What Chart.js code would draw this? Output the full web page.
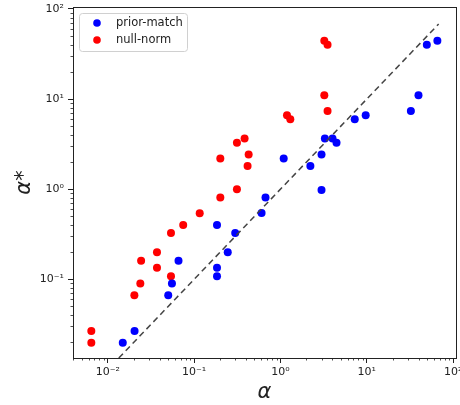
<!DOCTYPE html>
<html>
<head>
<meta charset="utf-8">
<script src="https://cdn.jsdelivr.net/npm/chart.js@4/dist/chart.umd.min.js"></script>
<style>
  html, body { margin: 0; padding: 0; background: #fff; overflow: hidden; }
  canvas { display: block; }
</style>
</head>
<body>
<canvas id="chart" width="460" height="405"></canvas>
<script>
// alpha vs alpha* values
const priorX = [0.0149, 0.0204, 0.0501, 0.0553, 0.0659, 0.184, 0.184, 0.184, 0.245, 0.299, 0.604, 0.671, 1.09, 2.22, 2.99, 2.99, 3.27, 4.01, 4.46, 7.25, 9.71, 32.4, 39.7, 49.6, 65.7];
const priorY = [0.0198, 0.0267, 0.0664, 0.0896, 0.161, 0.401, 0.134, 0.108, 0.2, 0.327, 0.545, 0.809, 2.19, 1.81, 2.43, 0.98, 3.66, 3.66, 3.27, 5.95, 6.59, 7.36, 11.0, 40.1, 44.4];

const nullX = [0.00644, 0.00644, 0.0203, 0.0238, 0.0243, 0.0371, 0.0371, 0.0539, 0.0539, 0.0747, 0.116, 0.201, 0.313, 0.201, 0.313, 0.384, 0.428, 0.416, 1.19, 1.30, 3.22, 3.51, 3.22, 3.51];
const nullY = [0.0267, 0.0198, 0.0664, 0.0896, 0.161, 0.134, 0.2, 0.108, 0.327, 0.401, 0.541, 0.809, 1.0, 2.19, 3.27, 3.66, 2.43, 1.81, 6.59, 5.95, 11.0, 7.36, 44.4, 40.1];

// y = x reference line ends
const refLine = [0.0134, 68];

const seriesNames = ['prior-match', 'null-norm'];
const seriesColors = ['#0000ff', '#ff0000'];

const xRange = [0.00395, 108];
const yRange = [0.0134, 105];

const decadeLabels = { '-3': '10⁻³', '-2': '10⁻²', '-1': '10⁻¹', '0': '10⁰', '1': '10¹', '2': '10²' };

const toPoints = (xs, ys) => xs.map((x, i) => ({ x: x, y: ys[i] }));

function decadeTicks(scale) {
  const ticks = [];
  for (let e = -3; e <= 2; e++) {
    const v = Math.pow(10, e);
    if (v >= scale.min && v <= scale.max) ticks.push({ value: v });
  }
  scale.ticks = ticks;
}

// matplotlib-like frame, minor ticks and legend box inside the plot
const framePlugin = {
  id: 'frame',
  afterDraw(chart) {
    const ctx = chart.ctx;
    const a = chart.chartArea;
    const xs = chart.scales.x;
    const ys = chart.scales.y;
    ctx.save();

    // minor ticks
    ctx.strokeStyle = '#222';
    ctx.lineWidth = 0.8;
    ctx.beginPath();
    for (let e = -3; e <= 2; e++) {
      for (let k = 2; k <= 9; k++) {
        const v = k * Math.pow(10, e);
        if (v > xs.min && v < xs.max) {
          const px = Math.round(xs.getPixelForValue(v)) + 0.5;
          ctx.moveTo(px, a.bottom);
          ctx.lineTo(px, a.bottom + 2.5);
        }
        if (v > ys.min && v < ys.max) {
          const py = Math.round(ys.getPixelForValue(v)) + 0.5;
          ctx.moveTo(a.left, py);
          ctx.lineTo(a.left - 2.5, py);
        }
      }
    }
    ctx.stroke();

    // spines
    ctx.lineWidth = 1;
    ctx.strokeRect(Math.round(a.left) + 0.5, Math.round(a.top) + 0.5,
      Math.round(a.right - a.left), Math.round(a.bottom - a.top));

    // legend
    const lx = 79, ly = 13, lw = 108, lh = 38;
    ctx.fillStyle = 'rgba(255,255,255,0.8)';
    ctx.strokeStyle = '#d0d0d0';
    ctx.lineWidth = 1;
    ctx.beginPath();
    ctx.roundRect(lx + 0.5, ly + 0.5, lw, lh, 3);
    ctx.fill();
    ctx.stroke();
    ctx.font = '11.5px "DejaVu Sans"';
    ctx.textBaseline = 'middle';
    seriesNames.forEach((name, i) => {
      const cy = ly + 10 + i * 17;
      ctx.fillStyle = seriesColors[i];
      ctx.beginPath();
      ctx.arc(lx + 18, cy, 3.8, 0, Math.PI * 2);
      ctx.fill();
      ctx.fillStyle = '#222';
      ctx.fillText(name, lx + 37, cy);
    });
    ctx.restore();
  }
};

Chart.defaults.font.family = '"DejaVu Sans"';
Chart.defaults.color = '#222';

const ctx = document.getElementById('chart').getContext('2d');
new Chart(ctx, {
  type: 'scatter',
  data: {
    datasets: [
      {
        type: 'line',
        label: 'y = x',
        data: toPoints(refLine, refLine),
        borderColor: '#444',
        borderWidth: 1.5,
        borderDash: [6, 4],
        pointRadius: 0,
        fill: false,
      },
      {
        label: seriesNames[0],
        data: toPoints(priorX, priorY),
        backgroundColor: seriesColors[0],
        borderWidth: 0,
        pointRadius: 4,
      },
      {
        label: seriesNames[1],
        data: toPoints(nullX, nullY),
        backgroundColor: seriesColors[1],
        borderWidth: 0,
        pointRadius: 4,
      },
    ],
  },
  options: {
    responsive: false,
    animation: false,
    layout: { padding: { top: 7, right: 2, left: 0, bottom: 0 } },
    plugins: {
      legend: { display: false },
      tooltip: { enabled: false },
    },
    scales: {
      x: {
        type: 'logarithmic',
        min: xRange[0],
        max: xRange[1],
        afterBuildTicks: decadeTicks,
        afterFit(scale) {
          scale.height = 47;
          scale.paddingLeft = 0;
          scale.paddingRight = 0;
        },
        grid: { drawOnChartArea: false, tickLength: 5, tickColor: '#222', lineWidth: 1 },
        border: { display: true, color: '#222', width: 1 },
        ticks: {
          padding: 3,
          maxRotation: 0,
          autoSkip: false,
          font: { size: 11 },
          callback: (v) => decadeLabels[Math.round(Math.log10(v))] || '',
        },
        title: {
          display: true,
          text: 'α',
          font: { size: 21, style: 'italic' },
          padding: { top: 5, bottom: 0 },
        },
      },
      y: {
        type: 'logarithmic',
        min: yRange[0],
        max: yRange[1],
        afterBuildTicks: decadeTicks,
        afterFit(scale) {
          scale.width = 73;
          scale.paddingTop = 0;
          scale.paddingBottom = 0;
        },
        grid: { drawOnChartArea: false, tickLength: 5, tickColor: '#222', lineWidth: 1 },
        border: { display: true, color: '#222', width: 1 },
        ticks: {
          padding: 4,
          autoSkip: false,
          font: { size: 11 },
          callback: (v) => decadeLabels[Math.round(Math.log10(v))] || '',
        },
        title: {
          display: true,
          text: 'α*',
          font: { size: 21, style: 'italic' },
          padding: { top: 12, bottom: 0 },
        },
      },
    },
  },
  plugins: [framePlugin],
});
</script>
</body>
</html>
